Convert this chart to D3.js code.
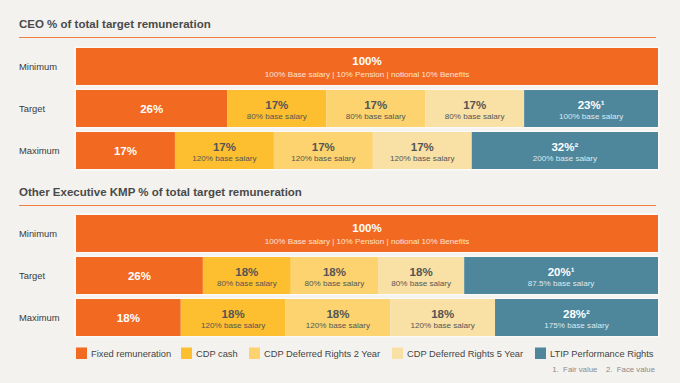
<!DOCTYPE html>
<html>
<head>
<meta charset="utf-8">
<script src="https://cdn.jsdelivr.net/npm/d3@7"></script>
<style>
  html, body { margin: 0; padding: 0; background: #f4f2ee; }
  svg { display: block; }
  text { font-family: "Liberation Sans", Arial, sans-serif; }
</style>
</head>
<body>
<div id="chart"></div>
<script>
// ---------- data ----------
const rows = ["Minimum", "Target", "Maximum"];
const series = ["Fixed remuneration", "CDP cash", "CDP Deferred Rights 2 Year", "CDP Deferred Rights 5 Year", "LTIP Performance Rights"];
const colors = ["#f26a22", "#fdbf2f", "#fcd36e", "#f9e0a4", "#4e869c"];

const ceoTitle = "CEO % of total target remuneration";
const ceoValues = [
  [100, 0, 0, 0, 0],
  [26, 17, 17, 17, 23],
  [17, 17, 17, 17, 32]
];
const ceoLabels = [
  ["100%", "", "", "", ""],
  ["26%", "17%", "17%", "17%", "23%\u00b9"],
  ["17%", "17%", "17%", "17%", "32%\u00b2"]
];
const ceoSubs = [
  ["100% Base salary | 10% Pension | notional 10% Benefits", "", "", "", ""],
  ["", "80% base salary", "80% base salary", "80% base salary", "100% base salary"],
  ["", "120% base salary", "120% base salary", "120% base salary", "200% base salary"]
];

const kmpTitle = "Other Executive KMP % of total target remuneration";
// segment widths as drawn in the picture (share of bar)
const kmpValues = [
  [100, 0, 0, 0, 0],
  [21.8, 15.1, 15.0, 14.8, 33.3],
  [18, 18, 18, 18, 28]
];
const kmpLabels = [
  ["100%", "", "", "", ""],
  ["26%", "18%", "18%", "18%", "20%\u00b9"],
  ["18%", "18%", "18%", "18%", "28%\u00b2"]
];
const kmpSubs = [
  ["100% Base salary | 10% Pension | notional 10% Benefits", "", "", "", ""],
  ["", "80% base salary", "80% base salary", "80% base salary", "87.5% base salary"],
  ["", "120% base salary", "120% base salary", "120% base salary", "175% base salary"]
];

const footnotes = "1.  Fair value    2.  Face value";

// ---------- drawing ----------
const W = 680, H = 383;
const svg = d3.select("#chart").append("svg").attr("width", W).attr("height", H);
svg.append("rect").attr("width", W).attr("height", H).attr("fill", "#f4f2ee");

const x = d3.scaleLinear().domain([0, 100]).range([76, 658]);
const color = d3.scaleOrdinal().domain(series).range(colors);

function panel(title, titleY, lineY, y0, y1, values, labels, subs) {
  const g = svg.append("g");
  g.append("text").attr("x", 19).attr("y", titleY)
    .attr("font-size", 11.5).attr("font-weight", "bold").attr("fill", "#4a4a4a")
    .text(title);
  g.append("line").attr("x1", 19).attr("x2", 656).attr("y1", lineY).attr("y2", lineY)
    .attr("stroke", "#f26a22").attr("stroke-opacity", 0.85).attr("stroke-width", 1);

  const y = d3.scaleBand().domain(rows).range([y0, y1]).paddingInner(0.12).paddingOuter(0);

  rows.forEach((r, i) => {
    const top = y(r), h = y.bandwidth();
    g.append("text").attr("x", 19).attr("y", top + h / 2).attr("dy", "0.35em")
      .attr("font-size", 9.4).attr("fill", "#3a3a3a").text(r);
    g.append("rect").attr("x", x(0) - 1.5).attr("y", top - 1.5)
      .attr("width", x(100) - x(0) + 3).attr("height", h + 3).attr("fill", "#fbfaf8");
    let cum = 0;
    const segs = values[i].map((v, j) => {
      const s = { v, j, start: cum };
      cum += v;
      return s;
    }).filter(s => s.v > 0);
    const sg = g.selectAll(null).data(segs).enter().append("g");
    sg.append("rect")
      .attr("x", d => x(d.start)).attr("y", top)
      .attr("width", d => x(d.start + d.v) - x(d.start)).attr("height", h)
      .attr("fill", d => color(series[d.j]));
    sg.each(function(d) {
      const cx = (x(d.start) + x(d.start + d.v)) / 2;
      const lab = labels[i][d.j], sub = subs[i][d.j];
      const light = d.j === 0 || d.j === 4;
      const main = d3.select(this).append("text").attr("x", cx).attr("text-anchor", "middle")
        .attr("font-size", 11.5).attr("font-weight", "bold")
        .attr("fill", light ? "#ffffff" : "#555555").text(lab);
      if (sub) {
        main.attr("y", top + (i === 0 ? 12.5 : 14.5)).attr("dy", "0.35em");
        d3.select(this).append("text").attr("x", cx).attr("y", top + 26.5).attr("dy", "0.35em")
          .attr("text-anchor", "middle").attr("font-size", 8.1)
          .attr("fill", d.j === 0 ? "#fde3d2" : (d.j === 4 ? "#dfe9ed" : "#555555"))
          .text(sub);
      } else {
        main.attr("y", top + h / 2).attr("dy", "0.35em");
      }
    });
  });
}

panel(ceoTitle, 28, 37.5, 48, 169, ceoValues, ceoLabels, ceoSubs);
panel(kmpTitle, 196, 205.5, 215, 336, kmpValues, kmpLabels, kmpSubs);

// legend
const legendX = [76, 181, 249, 392, 535];
const lg = svg.append("g");
series.forEach((s, i) => {
  lg.append("rect").attr("x", legendX[i]).attr("y", 347.5).attr("width", 11).attr("height", 11.5)
    .attr("fill", color(s));
  lg.append("text").attr("x", legendX[i] + 15).attr("y", 353.3).attr("dy", "0.35em")
    .attr("font-size", 9.3).attr("fill", "#444").text(s);
});

svg.append("text").attr("x", 655).attr("y", 369.5).attr("dy", "0.35em").attr("text-anchor", "end")
  .attr("font-size", 7.8).attr("fill", "#8a8a8a").attr("xml:space", "preserve")
  .style("white-space", "pre").text(footnotes);
</script>
</body>
</html>
